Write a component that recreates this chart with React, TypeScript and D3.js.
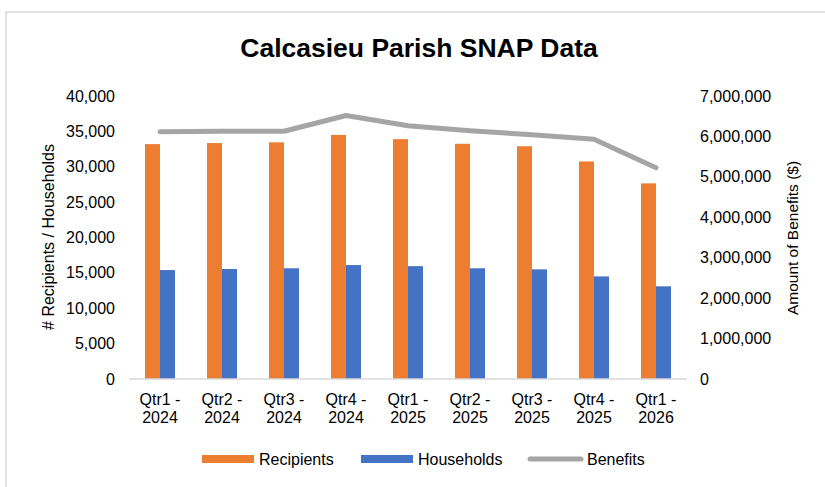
import React from "react";
import * as d3 from "d3";

const quarters = [
  ["Qtr1 -", "2024"],
  ["Qtr2 -", "2024"],
  ["Qtr3 -", "2024"],
  ["Qtr4 -", "2024"],
  ["Qtr1 -", "2025"],
  ["Qtr2 -", "2025"],
  ["Qtr3 -", "2025"],
  ["Qtr4 -", "2025"],
  ["Qtr1 -", "2026"],
];
const recipients = [33200, 33350, 33450, 34500, 33900, 33250, 32900, 30750, 27650];
const households = [15400, 15550, 15650, 16100, 15950, 15650, 15500, 14500, 13100];
const benefits = [6117000, 6127000, 6127000, 6518000, 6265000, 6142000, 6043000, 5929000, 5226000];
const leftTicks = [0, 5000, 10000, 15000, 20000, 25000, 30000, 35000, 40000];
const rightTicks = [0, 1000000, 2000000, 3000000, 4000000, 5000000, 6000000, 7000000];

const W = 825;
const H = 487;
const font = "Liberation Sans, Arial, sans-serif";

export default function App() {
  const keys = quarters.map((q) => q.join(" "));
  const x = d3
    .scaleBand()
    .domain(keys)
    .range([129, 687])
    .paddingInner(0.516)
    .paddingOuter(0.258);
  const x1 = d3
    .scaleBand()
    .domain(["Recipients", "Households"])
    .range([0, x.bandwidth()]);
  const y = d3.scaleLinear().domain([0, 40000]).range([379, 96]);
  const y2 = d3.scaleLinear().domain([0, 7000000]).range([379, 96]);
  const fmt = d3.format(",");

  const line = d3
    .line<number>()
    .x((_, i) => (x(keys[i]) as number) + x.bandwidth() / 2)
    .y((d) => y2(d));

  return (
    <svg
      width={W}
      height={H}
      style={{ position: "absolute", left: 0, top: 0, background: "#fff" }}
      fontFamily={font}
    >
      {/* chart border */}
      <rect x={6} y={12} width={W + 10} height={H + 10} fill="#fff" stroke="#D9D9D9" strokeWidth={1.5} />

      <text x={419} y={57} textAnchor="middle" fontSize={26.5} fontWeight="bold" fill="#000">
        Calcasieu Parish SNAP Data
      </text>

      {/* left axis labels */}
      {leftTicks.map((t) => (
        <text key={"l" + t} x={115} y={y(t)} dy="0.35em" textAnchor="end" fontSize={16} fill="#000">
          {fmt(t)}
        </text>
      ))}
      {/* right axis labels */}
      {rightTicks.map((t) => (
        <text key={"r" + t} x={700} y={y2(t)} dy="0.35em" textAnchor="start" fontSize={16} fill="#000">
          {fmt(t)}
        </text>
      ))}

      <text
        transform="translate(54,237) rotate(-90)"
        textAnchor="middle"
        fontSize={16}
        fill="#000"
      >
        # Recipients / Households
      </text>
      <text
        transform="translate(798,238) rotate(-90)"
        textAnchor="middle"
        fontSize={15.5}
        fill="#000"
      >
        Amount of Benefits ($)
      </text>

      {/* bars */}
      {keys.map((k, i) => (
        <g key={k} transform={`translate(${x(k)},0)`}>
          <rect
            x={x1("Recipients")}
            y={y(recipients[i])}
            width={x1.bandwidth()}
            height={y(0) - y(recipients[i])}
            fill="#ED7D31"
          />
          <rect
            x={x1("Households")}
            y={y(households[i])}
            width={x1.bandwidth()}
            height={y(0) - y(households[i])}
            fill="#4472C4"
          />
        </g>
      ))}

      {/* category axis */}
      <line x1={129} x2={687} y1={y(0)} y2={y(0)} stroke="#D9D9D9" strokeWidth={1.5} />
      {quarters.map((q, i) => (
        <text key={keys[i]} x={(x(keys[i]) as number) + x.bandwidth() / 2} textAnchor="middle" fontSize={16} fill="#000">
          <tspan x={(x(keys[i]) as number) + x.bandwidth() / 2} y={405}>{q[0]}</tspan>
          <tspan x={(x(keys[i]) as number) + x.bandwidth() / 2} y={423}>{q[1]}</tspan>
        </text>
      ))}

      {/* benefits line */}
      <path
        d={line(benefits) || ""}
        fill="none"
        stroke="#A5A5A5"
        strokeWidth={5}
        strokeLinecap="round"
        strokeLinejoin="round"
      />

      {/* legend */}
      <rect x={202} y={455} width={52} height={8} fill="#ED7D31" />
      <text x={259} y={459} dy="0.35em" fontSize={16} fill="#000">Recipients</text>
      <rect x={361} y={455} width={52} height={8} fill="#4472C4" />
      <text x={418} y={459} dy="0.35em" fontSize={16} fill="#000">Households</text>
      <line x1={530} x2={581} y1={459} y2={459} stroke="#A5A5A5" strokeWidth={5} strokeLinecap="round" />
      <text x={587} y={459} dy="0.35em" fontSize={16} fill="#000">Benefits</text>
    </svg>
  );
}
